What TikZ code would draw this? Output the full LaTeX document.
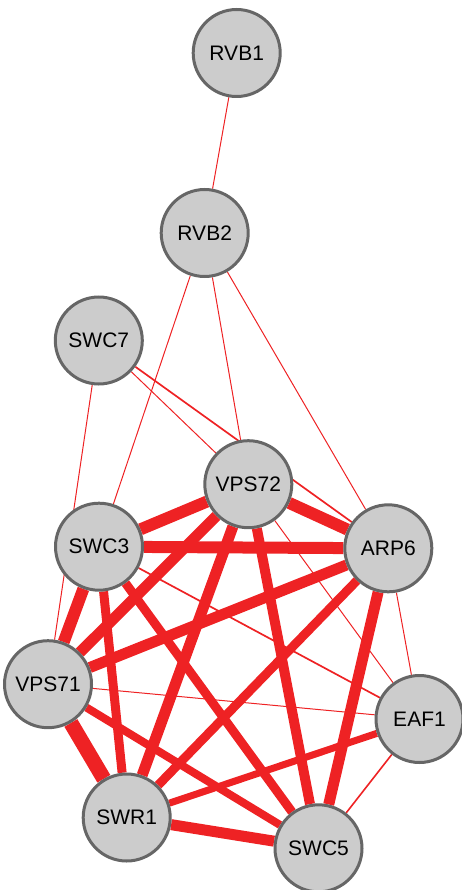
\documentclass[tikz,border=0pt]{standalone}
\usepackage{fontspec}
\setmainfont{Liberation Sans}
\usetikzlibrary{backgrounds}
\begin{document}
\begin{tikzpicture}[x=1pt,y=-1pt,
  protein/.style={circle, draw=nodegray, fill=nodefill, line width=3pt,
    minimum size=87pt, inner sep=0pt, font=\fontsize{21}{21}\selectfont},
  link/.style={draw=linkred, line width=#1},
  link/.default=1pt]
\definecolor{nodegray}{RGB}{102,102,102}
\definecolor{nodefill}{RGB}{204,204,204}
\definecolor{linkred}{RGB}{238,34,36}
\useasboundingbox (0,0) rectangle (461,890);

% proteins
\node[protein] (RVB1)  at (236.7, 53)   {RVB1};
\node[protein] (RVB2)  at (204.7, 233)  {RVB2};
\node[protein] (SWC7)  at (98.8, 340.5) {SWC7};
\node[protein] (VPS72) at (248.3, 484.2){VPS72};
\node[protein] (SWC3)  at (99, 546.7)   {SWC3};
\node[protein] (ARP6)  at (388.3, 548.3){ARP6};
\node[protein] (VPS71) at (48, 684.2)   {VPS71};
\node[protein] (EAF1)  at (419.5, 719)  {EAF1};
\node[protein] (SWR1)  at (126.7, 817.5){SWR1};
\node[protein] (SWC5)  at (318.5, 848.3){SWC5};

% interactions, drawn beneath the proteins
\begin{scope}[on background layer]
% weak interactions
\draw[link] (RVB1) -- (RVB2);
\draw[link] (RVB2) -- (SWC3);
\draw[link] (RVB2) -- (VPS72);
\draw[link] (RVB2) -- (ARP6);
\draw[link] (SWC7) -- (VPS71);
\draw[link] (SWC7) -- (VPS72);
\draw[link] (VPS72) -- (EAF1);
\draw[link] (ARP6) -- (EAF1);
\draw[link] (VPS71) -- (EAF1);
\draw[link=1.7pt] (SWC7) -- (ARP6);
\draw[link=1.7pt] (SWC3) -- (EAF1);
\draw[link=1.6pt] (EAF1) -- (SWC5);
% strong interactions
\draw[link=7pt]  (SWR1) -- (EAF1);
\draw[link=8pt]  (VPS71) -- (SWC5);
\draw[link=9pt]  (SWC3) -- (SWC5);
\draw[link=9pt]  (ARP6) -- (SWR1);
\draw[link=9pt]  (SWC3) -- (SWR1);
\draw[link=10pt] (VPS72) -- (SWC5);
\draw[link=11pt] (SWR1) -- (SWC5);
\draw[link=11pt] (VPS72) -- (SWR1);
\draw[link=11pt] (ARP6) -- (SWC5);
\draw[link=12pt] (VPS72) -- (SWC3);
\draw[link=12pt] (VPS72) -- (ARP6);
\draw[link=12pt] (SWC3) -- (ARP6);
\draw[link=11pt] (VPS72) -- (VPS71);
\draw[link=12pt] (SWC3) -- (VPS71);
\draw[link=11pt] (ARP6) -- (VPS71);
\draw[link=15pt] (VPS71) -- (SWR1);
\end{scope}
\end{tikzpicture}
\end{document}
